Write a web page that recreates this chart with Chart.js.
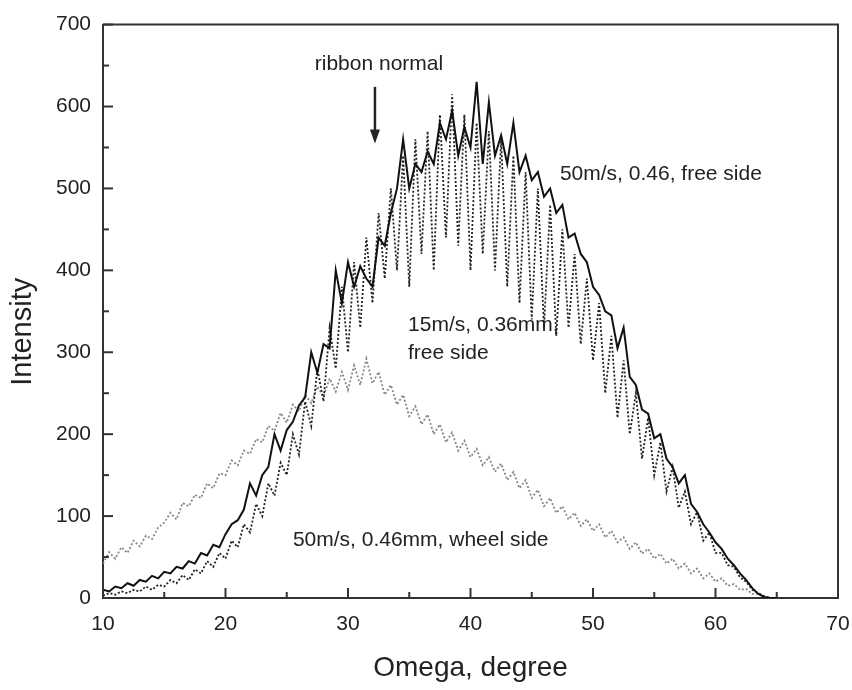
<!DOCTYPE html>
<html>
<head>
<meta charset="utf-8">
<script src="https://cdn.jsdelivr.net/npm/chart.js@4.4.1/dist/chart.umd.min.js"></script>
<style>
  html, body { margin: 0; padding: 0; background: #fff; }
</style>
</head>
<body>
<canvas id="chart" width="852" height="690"></canvas>
<script>
// omega (degree), sampled every half degree
const omega = [
  10, 10.5, 11, 11.5, 12, 12.5, 13, 13.5, 14, 14.5,
  15, 15.5, 16, 16.5, 17, 17.5, 18, 18.5, 19, 19.5,
  20, 20.5, 21, 21.5, 22, 22.5, 23, 23.5, 24, 24.5,
  25, 25.5, 26, 26.5, 27, 27.5, 28, 28.5, 29, 29.5,
  30, 30.5, 31, 31.5, 32, 32.5, 33, 33.5, 34, 34.5,
  35, 35.5, 36, 36.5, 37, 37.5, 38, 38.5, 39, 39.5,
  40, 40.5, 41, 41.5, 42, 42.5, 43, 43.5, 44, 44.5,
  45, 45.5, 46, 46.5, 47, 47.5, 48, 48.5, 49, 49.5,
  50, 50.5, 51, 51.5, 52, 52.5, 53, 53.5, 54, 54.5,
  55, 55.5, 56, 56.5, 57, 57.5, 58, 58.5, 59, 59.5,
  60, 60.5, 61, 61.5, 62, 62.5, 63, 63.5, 64, 64.5,
  65
];

// 50m/s, 0.46, free side (solid)
const free50 = [
  10, 8, 14, 12, 18, 15, 22, 20, 27, 24,
  32, 30, 38, 36, 45, 42, 55, 52, 65, 62,
  78, 90, 95, 108, 140, 125, 150, 160, 200, 180,
  205, 215, 235, 245, 300, 275, 310, 305, 400, 360,
  410, 380, 405, 390, 380, 440, 430, 470, 500, 560,
  500, 530, 520, 545, 530, 580, 560, 595, 540, 575,
  550, 630, 530, 605, 540, 565, 530, 580, 520, 540,
  510, 520, 490, 500, 470, 480, 440, 445, 420, 410,
  380, 370, 350, 345, 305, 330, 270, 260, 230, 225,
  195, 200, 170, 160, 140, 150, 115, 105, 90, 80,
  68, 60, 48, 40, 30, 22, 12, 5, 1, 0,
  0
];

// 15m/s, 0.36mm, free side (dotted)
const free15 = [
  3, 6, 4, 8, 6, 10, 8, 14, 10, 16,
  14, 22, 18, 28, 22, 35, 30, 45, 38, 55,
  48, 70, 62, 90, 80, 115, 100, 140, 125, 165,
  150, 200, 175, 240, 210, 280, 240, 330, 280, 380,
  300, 410, 330, 440, 360, 470, 390, 500, 400, 540,
  380, 560, 420, 570, 400, 590, 440, 615, 430, 590,
  400, 580, 420, 570, 400, 560, 380, 540, 360, 520,
  340, 500, 330, 480, 320, 450, 330, 420, 310, 390,
  290, 360, 250, 320, 220, 290, 200, 250, 170, 220,
  150, 190, 130, 160, 110, 130, 90, 105, 70, 80,
  55, 55, 40, 38, 25, 20, 10, 6, 2, 0,
  0
];

// 50m/s, 0.46mm, wheel side (grey dotted)
const wheel50 = [
  42, 56, 48, 62, 55, 70, 63, 76, 72, 86,
  92, 104, 96, 116, 112, 126, 122, 140, 134, 152,
  150, 168, 162, 180, 176, 194, 190, 210, 204, 226,
  214, 236, 228, 248, 238, 258, 246, 268, 252, 276,
  254, 284, 260, 292, 262, 276, 248, 260, 236, 248,
  222, 234, 212, 224, 200, 212, 190, 202, 180, 192,
  172, 182, 162, 172, 154, 164, 144, 154, 134, 144,
  122, 132, 112, 122, 104, 112, 96, 104, 88, 96,
  82, 90, 74, 82, 68, 74, 60, 68, 54, 60,
  48, 54, 42, 48, 36, 42, 30, 36, 24, 30,
  20, 24, 15, 17, 10, 11, 5, 5, 2, 0,
  0
];

const xMajor = [10, 20, 30, 40, 50, 60, 70];
const yMajor = [0, 100, 200, 300, 400, 500, 600, 700];

const FONT = '"Liberation Sans", Arial, sans-serif';

function pts(values) {
  return omega.map((x, i) => ({ x: x, y: values[i] }));
}

// frame, inward ticks, y title, arrow and text labels
const decorations = {
  id: 'decorations',
  afterDatasetsDraw(chart) {
    const ctx = chart.ctx;
    const xs = chart.scales.x, ys = chart.scales.y;
    const a = chart.chartArea;
    ctx.save();
    ctx.strokeStyle = '#333';
    ctx.lineWidth = 2;
    ctx.beginPath();
    ctx.moveTo(a.left, a.top); ctx.lineTo(a.right, a.top); ctx.lineTo(a.right, a.bottom);
    ctx.stroke();

    // ticks pointing into the plot
    for (let v = 10; v <= 70; v += 5) {
      const px = xs.getPixelForValue(v);
      const len = xMajor.includes(v) ? 10 : 6;
      ctx.beginPath(); ctx.moveTo(px, a.bottom); ctx.lineTo(px, a.bottom - len); ctx.stroke();
    }
    for (let v = 0; v <= 700; v += 50) {
      const py = ys.getPixelForValue(v);
      const len = yMajor.includes(v) ? 10 : 6;
      ctx.beginPath(); ctx.moveTo(a.left, py); ctx.lineTo(a.left + len, py); ctx.stroke();
    }

    // y axis title
    ctx.fillStyle = '#222';
    ctx.save();
    ctx.translate(23, ys.getPixelForValue(325));
    ctx.rotate(-Math.PI / 2);
    ctx.font = '29px ' + FONT;
    ctx.textAlign = 'center';
    ctx.textBaseline = 'middle';
    ctx.fillText('Intensity', 0, 0);
    ctx.restore();

    // ribbon normal arrow
    const ax = xs.getPixelForValue(32.2);
    const ay1 = ys.getPixelForValue(624), ay2 = ys.getPixelForValue(555);
    ctx.strokeStyle = '#222';
    ctx.lineWidth = 2.5;
    ctx.beginPath(); ctx.moveTo(ax, ay1); ctx.lineTo(ax, ay2 - 10); ctx.stroke();
    ctx.beginPath();
    ctx.moveTo(ax - 5, ay2 - 14); ctx.lineTo(ax + 5, ay2 - 14); ctx.lineTo(ax, ay2); ctx.closePath();
    ctx.fill();

    ctx.font = '21px ' + FONT;
    ctx.textBaseline = 'middle';
    ctx.textAlign = 'center';
    ctx.fillText('ribbon normal', ax + 4, ys.getPixelForValue(652));
    ctx.textAlign = 'left';
    ctx.fillText('50m/s, 0.46, free side', xs.getPixelForValue(47.3), ys.getPixelForValue(517));
    ctx.fillText('15m/s, 0.36mm,', xs.getPixelForValue(34.9), ys.getPixelForValue(333));
    ctx.fillText('free side', xs.getPixelForValue(34.9), ys.getPixelForValue(299));
    ctx.fillText('50m/s, 0.46mm, wheel side', xs.getPixelForValue(25.5), ys.getPixelForValue(70));
    ctx.restore();
  }
};

new Chart(document.getElementById('chart'), {
  type: 'line',
  data: {
    datasets: [
      {
        label: '50m/s, 0.46, free side',
        data: pts(free50),
        borderColor: '#111',
        borderWidth: 2,
        pointRadius: 0
      },
      {
        label: '15m/s, 0.36mm, free side',
        data: pts(free15),
        borderColor: '#222',
        borderWidth: 1.8,
        borderDash: [2, 2],
        pointRadius: 0
      },
      {
        label: '50m/s, 0.46mm, wheel side',
        data: pts(wheel50),
        borderColor: '#888',
        borderWidth: 1.8,
        borderDash: [2, 2],
        pointRadius: 0
      }
    ]
  },
  options: {
    responsive: false,
    animation: false,
    layout: { padding: { top: 19, right: 14, left: 0, bottom: 0 } },
    plugins: { legend: { display: false }, tooltip: { enabled: false } },
    scales: {
      x: {
        type: 'linear',
        min: 10, max: 70,
        afterBuildTicks: (s) => { s.ticks = xMajor.map(v => ({ value: v })); },
        afterFit: (s) => { s.height = 92; s.paddingRight = 0; s.paddingLeft = 0; },
        ticks: { color: '#222', padding: 14, font: { size: 21, family: FONT } },
        grid: { display: false, drawTicks: false },
        border: { display: true, color: '#333', width: 2 },
        title: { display: true, text: 'Omega, degree', color: '#222', padding: { top: 4, bottom: 5 },
                 font: { size: 28, family: FONT } }
      },
      y: {
        min: 0, max: 700,
        afterBuildTicks: (s) => { s.ticks = yMajor.map(v => ({ value: v })); },
        afterFit: (s) => { s.width = 103; },
        ticks: { color: '#222', padding: 12, font: { size: 21, family: FONT } },
        grid: { display: false, drawTicks: false },
        border: { display: true, color: '#333', width: 2 }
      }
    }
  },
  plugins: [decorations]
});
</script>
</body>
</html>
